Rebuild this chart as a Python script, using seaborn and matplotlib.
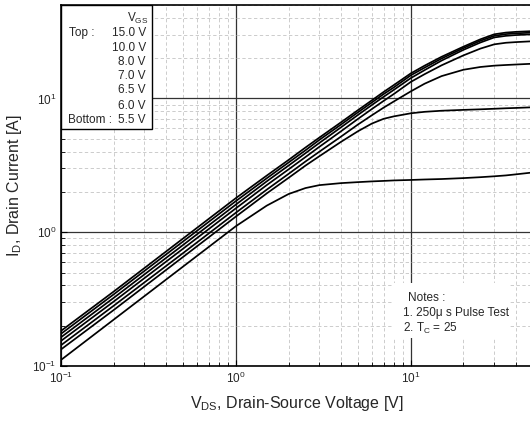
import matplotlib
matplotlib.use("Agg")
import matplotlib.pyplot as plt
import numpy as np
import pandas as pd
import seaborn as sns
from matplotlib.patches import Rectangle
from matplotlib.ticker import LogLocator, NullFormatter

# drain-source voltage sample points [V]
vds = [0.1, 0.2, 0.5, 1, 1.5, 2, 2.5, 3, 4, 5, 6, 7, 8, 10, 12, 15, 20, 25, 30, 35, 40, 50]

# drain current [A] per gate voltage
id_15v = [0.183, 0.36, 0.9, 1.8, 2.65, 3.47, 4.3, 5.1, 6.65, 8.2, 9.7, 11.2, 12.6, 15.4, 17.6, 20.5, 24.4, 27.7, 30.2, 31.1, 31.5, 31.9]
id_10v = [0.174, 0.343, 0.855, 1.71, 2.53, 3.32, 4.1, 4.9, 6.4, 7.9, 9.35, 10.8, 12.1, 14.9, 17.0, 19.9, 23.8, 27.0, 29.4, 30.3, 30.7, 31.1]
id_8v = [0.164, 0.323, 0.805, 1.61, 2.4, 3.15, 3.9, 4.65, 6.1, 7.55, 8.95, 10.3, 11.6, 14.2, 16.3, 19.2, 23.1, 26.2, 28.6, 29.4, 29.8, 30.2]
id_7v = [0.154, 0.303, 0.755, 1.51, 2.25, 2.95, 3.65, 4.35, 5.7, 7.05, 8.35, 9.6, 10.8, 13.3, 15.2, 17.7, 21.0, 23.6, 25.4, 26.1, 26.4, 26.8]
id_6v5 = [0.143, 0.282, 0.70, 1.40, 2.08, 2.73, 3.38, 4.0, 5.2, 6.4, 7.5, 8.55, 9.5, 11.3, 12.9, 14.7, 16.4, 17.2, 17.6, 17.8, 17.95, 18.2]
id_6v = [0.133, 0.262, 0.655, 1.31, 1.95, 2.55, 3.15, 3.7, 4.75, 5.7, 6.5, 7.05, 7.35, 7.75, 7.95, 8.1, 8.22, 8.3, 8.38, 8.45, 8.5, 8.6]
id_5v5 = [0.111, 0.222, 0.555, 1.11, 1.58, 1.93, 2.14, 2.25, 2.33, 2.37, 2.4, 2.42, 2.44, 2.46, 2.48, 2.5, 2.54, 2.58, 2.62, 2.66, 2.71, 2.8]

vgs_labels = ["15.0 V", "10.0 V", "8.0 V", "7.0 V", "6.5 V", "6.0 V", "5.5 V"]
curves = [id_15v, id_10v, id_8v, id_7v, id_6v5, id_6v, id_5v5]

df = pd.concat(
    [pd.DataFrame({"vds": vds, "id": c, "vgs": lab}) for lab, c in zip(vgs_labels, curves)],
    ignore_index=True,
)

sns.set_style("ticks")
plt.rcParams["font.family"] = ["Liberation Sans", "DejaVu Sans"]
plt.rcParams["mathtext.fontset"] = "custom"
plt.rcParams["mathtext.rm"] = "Liberation Sans"
plt.rcParams["mathtext.it"] = "Liberation Sans"
plt.rcParams["mathtext.default"] = "regular"

fig = plt.figure(figsize=(5.3, 4.3), dpi=100)
ax = fig.add_axes([61 / 530, 64 / 430, 472 / 530, 361 / 430])

sns.lineplot(data=df, x="vds", y="id", hue="vgs", palette=["black"] * 7,
             legend=False, linewidth=1.25, ax=ax, zorder=3)

ax.set_xscale("log")
ax.set_yscale("log")
ax.set_xlim(0.1, 50)
ax.set_ylim(0.1, 50)

for a in (ax.xaxis, ax.yaxis):
    a.set_major_locator(LogLocator(base=10))
    a.set_minor_locator(LogLocator(base=10, subs=np.arange(2, 10)))
    a.set_minor_formatter(NullFormatter())

ax.grid(which="major", color="#333333", linewidth=0.9, linestyle="-")
ax.grid(which="minor", color="#c4c4c4", linewidth=0.6, linestyle=(0, (4, 3)))
ax.set_axisbelow(True)
ax.tick_params(which="both", direction="in", labelsize=8.5, color="black")
ax.tick_params(which="major", length=4, width=0.8)
ax.tick_params(which="minor", length=3, width=0.6)

for s in ax.spines.values():
    s.set_color("black")
    s.set_linewidth(1.2)
ax.spines["right"].set_visible(False)

ax.set_xlabel(r"$\mathregular{V_{DS}}$, Drain-Source Voltage [V]", fontsize=11.5, labelpad=6)
ax.set_ylabel(r"$\mathregular{I_{D}}$, Drain Current [A]", fontsize=11.5, labelpad=6)

# V_GS key box, top-left
ax.add_patch(Rectangle((0, 0.6565), 0.193, 0.3435, transform=ax.transAxes,
                       facecolor="white", edgecolor="black", linewidth=1.0, zorder=5))
ax.text(0.140, 0.962, r"$\mathregular{V_{GS}}$", transform=ax.transAxes,
        fontsize=8.5, ha="left", va="center", zorder=6)
ys = [(366 - y) / 361 for y in [33.3, 47.7, 61.7, 76, 90, 106, 120]]
for lab, y in zip(vgs_labels, ys):
    ax.text(0.180, y, lab, transform=ax.transAxes, fontsize=8.5,
            ha="right", va="center", zorder=6)
ax.text(0.017, ys[0], "Top :", transform=ax.transAxes, fontsize=8.5,
        ha="left", va="center", zorder=6)
ax.text(0.015, ys[-1], "Bottom :", transform=ax.transAxes, fontsize=8.5,
        ha="left", va="center", zorder=6)

# notes box
ax.add_patch(Rectangle((0.703, 0.0776), 0.248, 0.152, transform=ax.transAxes,
                       facecolor="white", edgecolor="none", zorder=5))
ax.text(0.735, 0.188, "Notes :", transform=ax.transAxes, fontsize=8.5,
        ha="left", va="center", zorder=6)
ax.text(0.7246, 0.147, "1. 250\u03bc s Pulse Test", transform=ax.transAxes,
        fontsize=8.5, ha="left", va="center", zorder=6)
ax.text(0.7246, 0.105, r"2. $\mathregular{T_C}$ = 25", transform=ax.transAxes,
        fontsize=8.5, ha="left", va="center", zorder=6)

fig.savefig("out.png", dpi=100)
